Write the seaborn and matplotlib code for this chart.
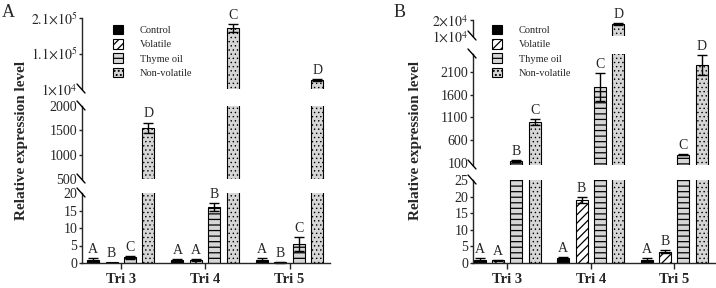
import matplotlib
matplotlib.use("Agg")
import matplotlib.pyplot as plt
import seaborn as sns
import pandas as pd
from matplotlib.patches import Patch
from matplotlib.lines import Line2D

# values
groups = ["Tri 3", "Tri 4", "Tri 5"]
treatments = ["Control", "Volatile", "Thyme oil", "Non-volatile"]

# panel A
a_control = [1.0, 0.8, 1.0]
a_volatile = [0.15, 0.8, 0.2]
a_thyme = [1.6, 16.0, 5.5]
a_nonvol = [1550, 182000, 35000]
a_control_err = [0.5, 0.3, 0.5]
a_volatile_err = [0.0, 0.3, 0.1]
a_thyme_err = [0.5, 1.1, 2.0]
a_nonvol_err = [110, 12000, 3000]
a_letters = [["A", "A", "A"], ["B", "A", "B"], ["C", "B", "C"], ["D", "C", "D"]]

# panel B
b_control = [1.0, 1.5, 1.0]
b_volatile = [0.8, 19.0, 3.4]
b_thyme = [130, 1770, 280]
b_nonvol = [1000, 17300, 2250]
b_control_err = [0.6, 0.2, 0.5]
b_volatile_err = [0.2, 1.0, 0.4]
b_thyme_err = [20, 300, 20]
b_nonvol_err = [60, 700, 220]
b_letters = [["A", "A", "A"], ["A", "B", "B"], ["B", "C", "C"], ["C", "D", "D"]]

colors = ["black", "white", "#d6d6d6", "#d6d6d6"]
hatches = ["", "////", "---", "...."]
hatch_lw = [0.9, 0.9, 0.9, 0.5]

sns.set_theme(style="ticks")
plt.rcParams["font.family"] = ["Liberation Serif", "DejaVu Serif"]
plt.rcParams["mathtext.fontset"] = "stix"
plt.rcParams["hatch.linewidth"] = 0.9

W, H = 716, 288
fig = plt.figure(figsize=(W / 100, H / 100), dpi=100)


def rect(x0, x1, ytop, ybot):
    return [x0 / W, 1 - ybot / H, (x1 - x0) / W, (ybot - ytop) / H]


def break_mark(x, y):
    # small "\" across the spine, x/y in pixels from top-left
    fig.add_artist(Line2D([(x - 5) / W, (x + 3) / W], [1 - (y - 5) / H, 1 - (y + 4) / H],
                          color="black", lw=1.0, transform=fig.transFigure))


def style_hatch(p, k):
    p.set_hatch(hatches[k])
    if hasattr(p, "set_hatch_linewidth"):
        p.set_hatch_linewidth(hatch_lw[k])


def draw_panel(vals, errs, letters, segs, x0, x1, xlim):
    df = pd.DataFrame({
        "tri": groups * 4,
        "treatment": [t for t in treatments for _ in groups],
        "value": [v for s in vals for v in s],
    })
    width, gap = 0.875, 0.35
    slot = width / 4
    n = len(segs)
    for i, (ylim, ticks, labels, ytop, ybot) in enumerate(segs):
        ax = fig.add_axes(rect(x0, x1, ytop, ybot))
        sns.barplot(data=df, x="tri", y="value", hue="treatment", order=groups,
                    hue_order=treatments, palette=colors, width=width, gap=gap,
                    errorbar=None, saturation=1, edgecolor="black", linewidth=0.8,
                    legend=False, ax=ax)
        ax.set_xlim(*xlim)
        ax.set_ylim(*ylim)
        ax.set_yticks(ticks)
        ax.set_yticklabels(labels, fontsize=10)
        ax.set_xlabel("")
        ax.set_ylabel("")
        for side in ["top", "right"]:
            ax.spines[side].set_visible(False)
        ax.spines["left"].set_linewidth(1.0)
        ax.tick_params(axis="y", length=2.5, width=1.0, pad=1)
        if i < n - 1:
            ax.spines["bottom"].set_visible(False)
            ax.tick_params(axis="x", bottom=False, labelbottom=False)
        else:
            ax.spines["bottom"].set_linewidth(1.0)
            ax.tick_params(axis="x", length=4, width=1.0, pad=3)
            for lab in ax.get_xticklabels():
                lab.set_fontweight("bold")
                lab.set_fontsize(10.5)
        # hide tick marks where the axis is broken
        span = ylim[1] - ylim[0]
        for t, tk in zip(ticks, ax.yaxis.get_major_ticks()):
            if (i > 0 and abs(t - ylim[1]) < 0.05 * span) or (i < n - 1 and abs(t - ylim[0]) < 0.05 * span):
                tk.tick1line.set_visible(False)
        if i > 0:
            break_mark(x0, ytop)
        if i < n - 1:
            break_mark(x0, ybot)
        # hatching, error bars and letters
        for p in ax.patches:
            xc = p.get_x() + p.get_width() / 2
            g = int(round(xc))
            k = int(round((xc - g) / slot + 1.5))
            style_hatch(p, k)
            v, e = vals[k][g], errs[k][g]
            lo = ylim[0] if i < n - 1 else -1
            hi = ylim[1] if i > 0 else float("inf")
            if lo < v <= hi:
                if e > 0:
                    ax.errorbar(xc, v, yerr=e, fmt="none", ecolor="black", elinewidth=1.0,
                                capsize=3.5, capthick=1.0, clip_on=False)
                ax.annotate(letters[k][g], (xc, v + e), xytext=(0, 1.5),
                            textcoords="offset points", ha="center", va="bottom",
                            fontsize=10, annotation_clip=False)


segs_a = [
    ((1e4, 2.1e5), [1e4, 1.1e5, 2.1e5],
     [r"$1{\times}10^4$", r"$1.1{\times}10^5$", r"$2.1{\times}10^5$"], 18, 89),
    ((500, 2000), [500, 1000, 1500, 2000], ["500", "1000", "1500", "2000"], 106, 179),
    ((0, 20), [0, 5, 10, 15, 20], ["0", "5", "10", "15", "20"], 193, 263),
]
segs_b = [
    ((1e4, 2e4), [1e4, 2e4], [r"$1{\times}10^4$", r"$2{\times}10^4$"], 20, 36),
    ((50, 2500), [100, 600, 1100, 1600, 2100], ["100", "600", "1100", "1600", "2100"], 54, 165),
    ((0, 25), [0, 5, 10, 15, 20, 25], ["0", "5", "10", "15", "20", "25"], 180, 263),
]

draw_panel([a_control, a_volatile, a_thyme, a_nonvol],
           [a_control_err, a_volatile_err, a_thyme_err, a_nonvol_err],
           a_letters, segs_a, 82, 330, (-0.46, 2.48))
draw_panel([b_control, b_volatile, b_thyme, b_nonvol],
           [b_control_err, b_volatile_err, b_thyme_err, b_nonvol_err],
           b_letters, segs_b, 473, 716, (-0.41, 2.5))

handles = []
for k, (c, t) in enumerate(zip(colors, treatments)):
    hp = Patch(facecolor=c, edgecolor="black", linewidth=0.8, label=t)
    style_hatch(hp, k)
    handles.append(hp)
for lx in [113, 492]:
    fig.legend(handles=handles, loc="upper left", bbox_to_anchor=(lx / W, 1 - 25 / H),
               frameon=False, fontsize=7.5, handlelength=1.0, handleheight=1.0,
               handletextpad=1.6, labelspacing=0.38, borderpad=0, borderaxespad=0)

for x in [22, 415]:
    fig.text(x / W, 1 - 140 / H, "Relative expression level", rotation=90,
             ha="center", va="center", fontsize=11, fontweight="bold")
fig.text(2 / W, 1 - 4 / H, "A", fontsize=13, va="top", ha="left")
fig.text(394 / W, 1 - 4 / H, "B", fontsize=13, va="top", ha="left")

fig.savefig("out.png", dpi=100)
